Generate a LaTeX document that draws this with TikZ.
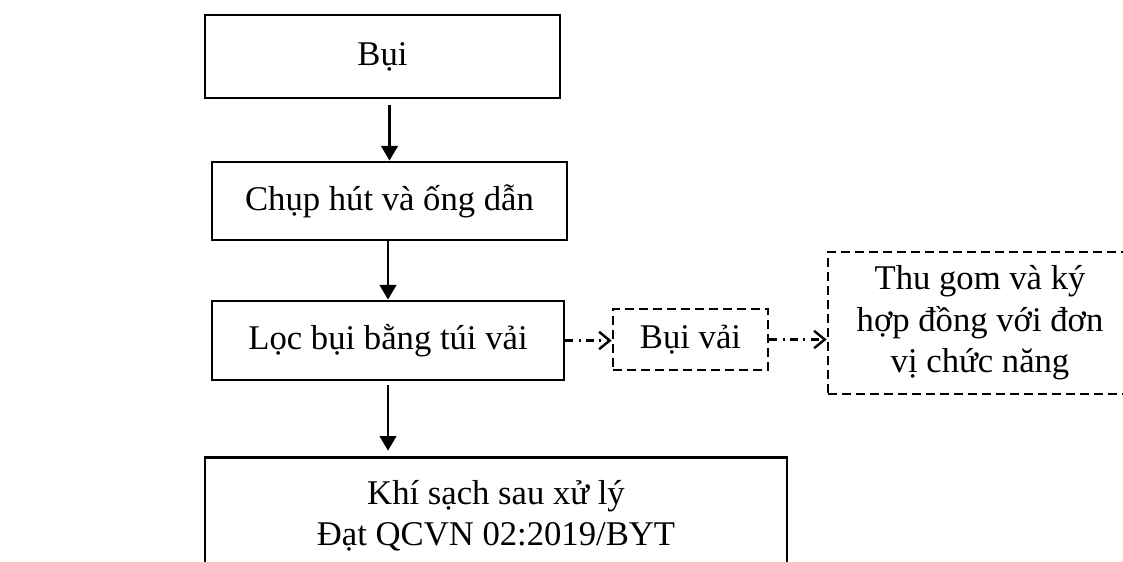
\documentclass[tikz,border=0pt]{standalone}
\usepackage{fontspec}
\setmainfont{Liberation Serif}
\usetikzlibrary{arrows.meta}
\begin{document}
\begin{tikzpicture}[x=0.75pt,y=-0.75pt,
  every node/.style={font=\fontsize{26}{31}\selectfont, align=center, inner sep=0pt},
  solidbox/.style={draw, line width=2.2pt},
  dashbox/.style={draw, line width=2pt, dash pattern=on 6.5pt off 4pt},
  flow/.style={line width=1.8pt, -{Triangle[length=11pt,width=12.5pt]}},
  side/.style={line width=1.8pt, dash pattern=on 6pt off 4pt on 1.5pt off 4pt,
    -{Straight Barb[length=8pt,width=13pt,line width=1.8pt]}}]
\useasboundingbox (0,0) rectangle (1123,561);
\clip (0,0) rectangle (1123,561);

% main treatment chain
\node[solidbox, minimum width=266.25pt, minimum height=62.25pt] (bui) at (382.5,56.5) {Bụi};
\node[solidbox, minimum width=266.25pt, minimum height=58.5pt] (chup) at (389.5,201) {Chụp hút và ống dẫn};
\node[solidbox, minimum width=264pt, minimum height=59.25pt] (loc) at (388,340.5) {Lọc bụi bằng túi vải};
\node[solidbox, anchor=north, minimum width=436.5pt, minimum height=88pt] (out) at (496,456)
  {Khí sạch sau xử lý\\Đạt QCVN 02:2019/BYT};

% collected dust and its handling
\node[dashbox, minimum width=116.25pt, minimum height=45.75pt] (vai) at (690.5,339.5) {Bụi vải};
\node[dashbox, minimum width=228pt, minimum height=106.5pt] (thu) at (980,323)
  {Thu gom và ký\\hợp đồng với đơn\\vị chức năng};

% connectors
\draw[flow, shorten <=4pt] (bui.south -| chup.north) -- (chup.north);
\draw[flow] (chup.south -| loc.north) -- (loc.north);
\draw[flow, shorten <=3pt, shorten >=4pt] (loc.south) -- (loc.south |- out.north);
\draw[side] (loc.east) -- (loc.east -| vai.west);
\draw[side] (vai.east) -- (vai.east -| thu.west);
\end{tikzpicture}
\end{document}
